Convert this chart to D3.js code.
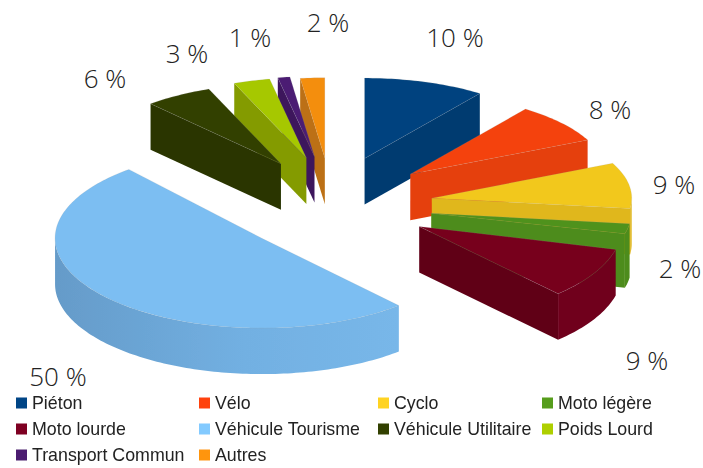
<!DOCTYPE html>
<html>
<head>
<meta charset="utf-8">
<script src="https://cdnjs.cloudflare.com/ajax/libs/d3/7.8.5/d3.min.js"></script>
<style>
  html, body { margin: 0; padding: 0; background: #fff; }
  svg { display: block; }
</style>
</head>
<body>
<div id="chart"></div>
<script>
"use strict";

var categories = ["Piéton", "Vélo", "Cyclo", "Moto légère", "Moto lourde",
                  "Véhicule Tourisme", "Véhicule Utilitaire", "Poids Lourd",
                  "Transport Commun", "Autres"];
var values = [10, 8, 9, 2, 9, 50, 6, 3, 1, 2];

var legendColors = ["#004586", "#ff420e", "#ffd320", "#579d1c", "#7e0021",
                    "#83caff", "#314004", "#aecf00", "#4b1f6f", "#ff950e"];
var topColors = ["#01437f", "#f4430c", "#f2c81e", "#50921b", "#77001f",
                 "#7bbef2", "#334003", "#a6c800", "#4b1e73", "#f48e11"];
var wallColors = ["#013a70", "#e53f0e", "#e0b71f", "#4d8c1a", "#610018",
                  "#72b0e2", "#2a3501", "#849b00", "#3c175c", "#bc7012"];

/* label anchors */
var labelX = [455, 610, 674, 680, 647, 58, 105, 187, 250, 328];
var labelY = [37, 109, 184, 268, 360, 376, 78, 53, 37, 22];

var WIDTH = 703, HEIGHT = 468;
var cx = 334, cy = 206;
var R = 196, TILT = 0.41, DEPTH = 46;
var EXPLODE_X = 99, EXPLODE_Y = 50;

/* the reference has some perspective, so front slices look larger and
   shift a little from where a flat projection puts them */
var radiusBoost = [1, 1, 1.02, 1.02, 1.035, 1.055, 1, 1, 1, 1];
var tiltBoost = [1, 1, 1, 1, 1.11, 1.06, 1, 1, 1, 1];
var depthExtra = [0, 0, 0, 8, 0, 0, 0, 0, 0, 0];
var nudgeX = [0, 0, 0, 0, 0, 0, 0, 0, -4, -3];
var nudgeY = [0, 0, 0, -2, -5, -2, 0, 0, 0, 2];
var startWarp = [0, 0, 0, 0, 0, 1.7, 1.5, 0, 0, 0];   // degrees
var endWarp = [0, 0, 0, 0, 0, 3.2, 0, 0, 0, 0];

var svg = d3.select("#chart")
            .append("svg")
            .attr("width", WIDTH)
            .attr("height", HEIGHT);

var defs = svg.append("defs");
defs.append("filter").attr("id", "soft")
    .append("feGaussianBlur").attr("stdDeviation", 0.6);
defs.append("filter").attr("id", "softText")
    .append("feGaussianBlur").attr("stdDeviation", 0.3);

var wallGrad = defs.append("linearGradient").attr("id", "wallGrad");
wallGrad.append("stop").attr("offset", "0%").attr("stop-color", "#659bc9");
wallGrad.append("stop").attr("offset", "55%").attr("stop-color", "#72b0e2");
wallGrad.append("stop").attr("offset", "100%").attr("stop-color", "#78b7e9");

var pie = d3.pie().sort(null).value(function (d) { return d; });
var arcs = pie(values);

var RAD = Math.PI / 180;

/* project a pie angle to the screen, d3 angles start at 12 o'clock */
function project(a, d, r, z) {
  var mid = (d.startAngle + d.endAngle) / 2;
  return [
    cx + nudgeX[d.index] + EXPLODE_X * Math.sin(mid) + r * Math.sin(a),
    cy + nudgeY[d.index] - EXPLODE_Y * Math.cos(mid)
       - r * TILT * tiltBoost[d.index] * Math.cos(a) + z
  ];
}

var line = d3.line();

function arcPoints(d, a0, a1, r, z) {
  var n = Math.max(2, Math.ceil((a1 - a0) / 0.02));
  return d3.range(n + 1).map(function (i) {
    return project(a0 + (a1 - a0) * i / n, d, r, z);
  });
}

/* back to front: right hand slices then left hand ones, the big one last */
var order = [0, 1, 2, 3, 4, 9, 8, 7, 6, 5];

var pieG = svg.append("g").attr("filter", "url(#soft)");

order.forEach(function (i) {
  var d = arcs[i];
  var r = R * radiusBoost[i];
  var h = DEPTH + depthExtra[i];
  var start = d.startAngle + startWarp[i] * RAD;
  var end = d.endAngle + endWarp[i] * RAD;
  var g = pieG.append("g");
  var wall = i == 5 ? "url(#wallGrad)" : wallColors[i];

  function radialWall(a) {
    g.append("path")
     .attr("d", line([project(a, d, 0, 0), project(a, d, r, 0),
                      project(a, d, r, h), project(a, d, 0, h)]) + "Z")
     .attr("fill", wallColors[i]);
  }

  if (Math.sin(start) < 0) radialWall(start);
  if (Math.sin(end) > 0) radialWall(end);

  /* outer rim is only seen on the front half */
  var a0 = Math.max(start, Math.PI / 2);
  var a1 = Math.min(end, Math.PI * 1.5);
  if (a1 > a0) {
    var rim = arcPoints(d, a0, a1, r, 0)
      .concat(arcPoints(d, a0, a1, r, h).reverse());
    g.append("path")
     .attr("d", line(rim) + "Z")
     .attr("fill", i == 4 ? "#6f001d" : wall);
  }

  var top = [project(0, d, 0, 0)]
    .concat(arcPoints(d, start, end, r, 0));
  g.append("path")
   .attr("d", line(top) + "Z")
   .attr("fill", topColors[i])
   .attr("stroke", "#9a9a9a")
   .attr("stroke-opacity", 0.25)
   .attr("stroke-width", 0.6);
});

svg.selectAll(".pct")
   .data(values)
   .enter()
   .append("text")
   .attr("class", "pct")
   .attr("x", function (d, i) { return labelX[i]; })
   .attr("y", function (d, i) { return labelY[i]; })
   .attr("text-anchor", "middle")
   .attr("dominant-baseline", "central")
   .attr("font-family", "'Open Sans'")
   .attr("font-weight", 300)
   .attr("font-size", 26)
   .attr("fill", "#222")
   .text(function (d) { return d + " %"; });

/* legend, four columns */
var colX = d3.scaleOrdinal().domain([0, 1, 2, 3]).range([16, 199, 378, 542]);
var rowY = d3.scalePoint().domain([0, 1, 2]).range([403, 455]);

var legend = svg.append("g").attr("filter", "url(#softText)");

var items = legend.selectAll("g")
   .data(categories)
   .enter()
   .append("g")
   .attr("transform", function (d, i) {
     return "translate(" + colX(i % 4) + "," + rowY(Math.floor(i / 4)) + ")";
   });

items.append("rect")
     .attr("x", 0).attr("y", -5.5)
     .attr("width", 11).attr("height", 11)
     .attr("fill", function (d, i) { return legendColors[i]; });

items.append("text")
     .attr("x", 16)
     .attr("y", 0)
     .attr("dominant-baseline", "central")
     .attr("font-family", "'Liberation Sans'")
     .attr("font-size", 17.8)
     .attr("fill", "#222")
     .text(function (d) { return d; });
</script>
</body>
</html>
